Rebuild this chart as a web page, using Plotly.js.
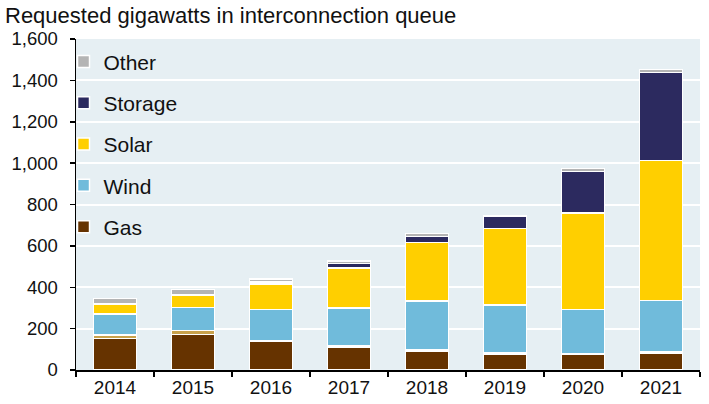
<!DOCTYPE html>
<html>
<head>
<meta charset="utf-8">
<script src="https://cdn.plot.ly/plotly-3.0.1.min.js"></script>
<style>html,body{margin:0;padding:0;background:#fff;}#chart{width:709px;height:404px;}</style>
</head>
<body>
<div id="chart"></div>
<script>
var years = ["2014", "2015", "2016", "2017", "2018", "2019", "2020", "2021"];
var gas = [152, 172, 139, 112, 93, 78, 75, 81];
var unlabeled = [18, 18, 3, 3, 4, 3, 4, 6];
var wind = [100, 111, 151, 185, 236, 233, 213, 249];
var solar = [48, 58, 122, 193, 283, 371, 466, 676];
var storage = [0, 5, 10, 22, 30, 58, 201, 427];
var other = [27, 24, 14, 13, 13, 3, 14, 14];
var yTickVals = [0, 200, 400, 600, 800, 1000, 1200, 1400, 1600];
var yTickText = ["0", "200", "400", "600", "800", "1,000", "1,200", "1,400", "1,600"];

var FONT = "Liberation Sans, Arial, Helvetica, sans-serif";
function series(name, y, color, show, rank) {
  return {
    type: "bar", name: name, x: years, y: y, legendgroup: name,
    showlegend: show, legendrank: rank,
    marker: {color: color, line: {color: "#ffffff", width: 1.5}},
    hoverinfo: "x+y+name"
  };
}
var data = [
  series("Gas", gas, "#663300", true, 5),
  series("Unlabeled", unlabeled, "#c9a24c", false, 6),
  series("Wind", wind, "#70bbdb", true, 4),
  series("Solar", solar, "#ffcf00", true, 3),
  series("Storage", storage, "#2c2a5f", true, 2),
  series("Other", other, "#b4b4b4", true, 1)
];
var layout = {
  width: 709, height: 404,
  margin: {l: 76, r: 9, t: 38.5, b: 33.5, pad: 0},
  paper_bgcolor: "#ffffff",
  plot_bgcolor: "#e6eff3",
  barmode: "stack",
  bargap: 0.45,
  font: {family: FONT, size: 19, color: "#000000"},
  title: {
    text: "Requested gigawatts in interconnection queue",
    font: {family: FONT, size: 22, color: "#111111"},
    x: 5 / 709, xref: "container", xanchor: "left",
    y: 1 - 15 / 404, yref: "container", yanchor: "middle"
  },
  xaxis: {
    type: "category",
    showline: true, linecolor: "#000000", linewidth: 1.5,
    ticks: "outside", tickson: "boundaries", ticklen: 5, tickcolor: "#000000", tickwidth: 1.5,
    showgrid: false, zeroline: false,
    tickfont: {family: FONT, size: 19, color: "#111111"}
  },
  yaxis: {
    range: [0, 1600],
    tickvals: yTickVals, ticktext: yTickText,
    showline: true, linecolor: "#000000", linewidth: 1.5,
    ticks: "outside", ticklen: 5, tickcolor: "#000000", tickwidth: 1.5,
    ticklabelstandoff: 8,
    showgrid: true, gridcolor: "#ffffff", gridwidth: 2,
    zeroline: false,
    tickfont: {family: FONT, size: 18.5, color: "#111111"}
  },
  legend: {
    x: -0.02, xanchor: "left", y: 0.993, yanchor: "top",
    bgcolor: "rgba(0,0,0,0)",
    traceorder: "grouped",
    tracegroupgap: 11,
    font: {family: FONT, size: 21, color: "#111111"}
  },
  showlegend: true
};
Plotly.newPlot("chart", data, layout, {displayModeBar: false, staticPlot: true});
</script>
</body>
</html>
